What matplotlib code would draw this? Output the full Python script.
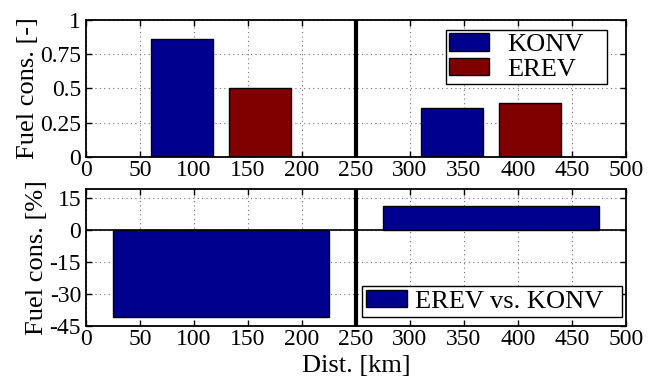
import matplotlib
matplotlib.use("Agg")
import matplotlib.pyplot as plt

# top panel: absolute fuel consumption per distance segment
seg_centers = [125, 375]
bar_offset = 36
bar_width = 57.5
konv = [0.86, 0.36]
erev = [0.505, 0.395]

# bottom panel: relative difference EREV vs. KONV per segment
diff_width = 200
diff = [-41, 11]

xticks = [0, 50, 100, 150, 200, 250, 300, 350, 400, 450, 500]
top_yticks = [0, 0.25, 0.5, 0.75, 1]
top_yticklabels = ["0", "0.25", "0.5", "0.75", "1"]
bot_yticks = [-45, -30, -15, 0, 15]

BLUE = "#00008f"
RED = "#800000"

plt.rcParams["font.family"] = ["Liberation Serif", "DejaVu Serif"]
plt.rcParams["axes.unicode_minus"] = False
plt.rcParams["xtick.direction"] = "in"
plt.rcParams["ytick.direction"] = "in"
plt.rcParams["xtick.top"] = True
plt.rcParams["ytick.right"] = True

fig = plt.figure(figsize=(6.56, 3.79), dpi=100)
ax1 = fig.add_axes([0.131, 0.586, 0.823, 0.361])
ax2 = fig.add_axes([0.131, 0.140, 0.823, 0.361])


def style(ax):
    ax.set_xlim(0, 500)
    ax.set_xticks(xticks)
    ax.grid(True, linestyle=(0, (1, 3)), color="0.45", linewidth=0.8)
    ax.set_axisbelow(True)
    ax.tick_params(labelsize=17, length=4, width=1)
    ax.tick_params(axis="x", pad=2)
    ax.tick_params(axis="y", pad=3.5)
    for s in ax.spines.values():
        s.set_linewidth(1.3)
    ax.axvline(250, color="black", linewidth=3)


left = [c - bar_offset for c in seg_centers]
right = [c + bar_offset for c in seg_centers]
ax1.bar(left, konv, width=bar_width, color=BLUE, edgecolor="black",
        linewidth=1, label="KONV", zorder=2)
ax1.bar(right, erev, width=bar_width, color=RED, edgecolor="black",
        linewidth=1, label="EREV", zorder=2)
style(ax1)
ax1.set_ylim(0, 1)
ax1.set_yticks(top_yticks)
ax1.set_yticklabels(top_yticklabels)
ax1.set_ylabel("Fuel cons. [-]", fontsize=19, labelpad=1)
leg = ax1.legend(loc="upper right", fontsize=19, fancybox=False,
                 edgecolor="black", framealpha=1, handlelength=1.5,
                 handleheight=0.65, labelspacing=0.05, borderpad=0.12,
                 handletextpad=0.7, borderaxespad=0, mode="expand",
                 bbox_to_anchor=(0.667, 0.927, 0.298, 0.0))
leg.get_frame().set_linewidth(1)

ax2.bar(seg_centers, diff, width=diff_width, color=BLUE, edgecolor="black",
        linewidth=1, label="EREV vs. KONV", zorder=2)
ax2.axhline(0, color="black", linewidth=1.2, zorder=3)
style(ax2)
ax2.set_ylim(-45, 19)
ax2.set_yticks(bot_yticks)
ax2.set_ylabel("Fuel cons. [%]", fontsize=19, labelpad=1)
ax2.set_xlabel("Dist. [km]", fontsize=19, labelpad=4)
leg2 = ax2.legend(loc="lower right", fontsize=19, fancybox=False,
                  edgecolor="black", framealpha=1, handlelength=1.55,
                  handleheight=0.6, borderpad=0.15, handletextpad=0.3,
                  borderaxespad=0, mode="expand",
                  bbox_to_anchor=(0.511, 0.066, 0.482, 0.0))
leg2.get_frame().set_linewidth(1)

fig.savefig("out.png", dpi=100)
